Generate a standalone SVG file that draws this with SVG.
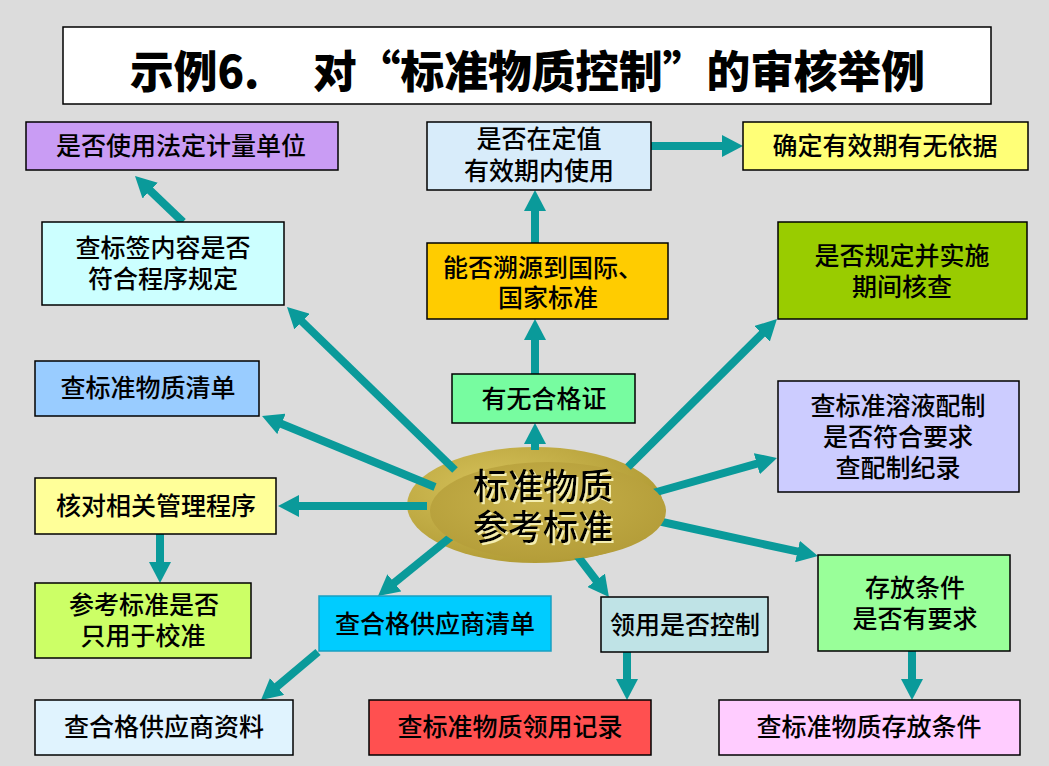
<svg xmlns="http://www.w3.org/2000/svg" width="1049" height="766" viewBox="0 0 1049 766">
<defs>
<style>
.bx{stroke:#000;stroke-width:1.5}
.t{font-family:"Noto Sans CJK SC","Noto Sans",sans-serif;font-size:25px;font-weight:500;fill:#000;text-anchor:middle}
.c{stroke:#0a9a9a;stroke-width:8;fill:none;marker-end:url(#ah)}
</style>
<marker id="ah" markerUnits="userSpaceOnUse" markerWidth="21" markerHeight="22" viewBox="0 0 21 22" refX="3" refY="11" orient="auto">
<path d="M0,0 L21,11 L0,22 z" fill="#0a9a9a"/>
</marker>
<radialGradient id="rim" cx="0.35" cy="0.35" r="0.7">
<stop offset="0" stop-color="#d6c25a"/>
<stop offset="1" stop-color="#b09a34"/>
</radialGradient>
<radialGradient id="face" cx="0.45" cy="0.4" r="0.65">
<stop offset="0" stop-color="#c7b14a"/>
<stop offset="1" stop-color="#b39c38"/>
</radialGradient>
<filter id="sh" x="-10%" y="-20%" width="120%" height="140%">
<feOffset in="SourceAlpha" dx="2" dy="2" result="o"/>
<feFlood flood-color="#f4eeb0"/>
<feComposite in2="o" operator="in" result="s"/>
<feMerge><feMergeNode in="s"/><feMergeNode in="SourceGraphic"/></feMerge>
</filter>
</defs>
<rect width="1049" height="766" fill="#dcdcdc"/>

<g id="title">
<rect x="63" y="27" width="928" height="77" fill="#fff" stroke="#000" stroke-width="1.5"/>
<text x="130" y="88" textLength="795" lengthAdjust="spacingAndGlyphs" style="font-family:'Noto Sans CJK SC','Noto Sans',sans-serif;font-size:44px;font-weight:900;fill:#000">示例6.　 对“标准物质控制”的审核举例</text>
</g>

<g id="center-back">
<ellipse cx="535" cy="505" rx="128" ry="58" fill="url(#rim)"/>
</g>

<g id="connectors">
<line class="c" x1="183" y1="222" x2="148" y2="188.5"/>
<line class="c" x1="455" y1="470" x2="299.9" y2="319.5"/>
<line class="c" x1="435" y1="487" x2="278.7" y2="422.8"/>
<line class="c" x1="427" y1="506" x2="296" y2="506"/>
<line class="c" x1="160" y1="534" x2="160" y2="565"/>
<line class="c" x1="452" y1="536" x2="392" y2="584.7"/>
<line class="c" x1="318" y1="652" x2="274.8" y2="688.4"/>
<line class="c" x1="576" y1="554" x2="598" y2="582.7"/>
<line class="c" x1="627" y1="652" x2="627" y2="682"/>
<line class="c" x1="653" y1="520" x2="800.4" y2="552.2"/>
<line class="c" x1="653" y1="493" x2="759.7" y2="462.9"/>
<line class="c" x1="628" y1="467" x2="764.2" y2="331.7"/>
<line class="c" x1="535" y1="450" x2="535" y2="441"/>
<line class="c" x1="535" y1="374" x2="535" y2="337"/>
<line class="c" x1="535" y1="243" x2="535" y2="208"/>
<line class="c" x1="651" y1="146" x2="725" y2="146"/>
<line class="c" x1="912" y1="651" x2="912" y2="682"/>
</g>

<g id="center">
<ellipse cx="548" cy="511" rx="118" ry="49" fill="url(#face)"/>
<text filter="url(#sh)" style="font-family:'Noto Sans CJK SC','Noto Sans',sans-serif;font-size:35px;font-weight:500;text-anchor:middle;fill:#000"><tspan x="543" y="499">标准物质</tspan><tspan x="543" y="540">参考标准</tspan></text>
</g>

<g id="n-unit"><rect class="bx" x="26" y="122" width="312" height="48" fill="#c99cf4"/><text class="t" x="181" y="155">是否使用法定计量单位</text></g>
<g id="n-validity"><rect class="bx" x="427" y="122" width="224" height="68" fill="#d8ecfa"/><text class="t"><tspan x="539" y="148">是否在定值</tspan><tspan x="539" y="180">有效期内使用</tspan></text></g>
<g id="n-basis"><rect class="bx" x="743" y="122" width="285" height="48" fill="#ffff77"/><text class="t" x="885" y="155">确定有效期有无依据</text></g>
<g id="n-label"><rect class="bx" x="42" y="222" width="242" height="83" fill="#ccffff"/><text class="t"><tspan x="163" y="257">查标签内容是否</tspan><tspan x="163" y="288">符合程序规定</tspan></text></g>
<g id="n-trace"><rect class="bx" x="427" y="243" width="241" height="76" fill="#ffcc00"/><text class="t" style="text-anchor:start"><tspan x="443" y="277">能否溯源到国际、</tspan><tspan x="498" y="307">国家标准</tspan></text></g>
<g id="n-check"><rect class="bx" x="778" y="222" width="249" height="97" fill="#99cc00"/><text class="t"><tspan x="902" y="265">是否规定并实施</tspan><tspan x="902" y="296">期间核查</tspan></text></g>
<g id="n-list"><rect class="bx" x="35" y="361" width="224" height="55" fill="#99ccff"/><text class="t" x="148" y="397">查标准物质清单</text></g>
<g id="n-cert"><rect class="bx" x="452" y="374" width="183" height="49" fill="#77fca0"/><text class="t" x="544" y="408">有无合格证</text></g>
<g id="n-solution"><rect class="bx" x="778" y="381" width="241" height="111" fill="#ccccff"/><text class="t"><tspan x="898" y="415">查标准溶液配制</tspan><tspan x="898" y="446">是否符合要求</tspan><tspan x="898" y="477">查配制纪录</tspan></text></g>
<g id="n-procedure"><rect class="bx" x="35" y="478" width="241" height="56" fill="#ffff99"/><text class="t" x="156" y="515">核对相关管理程序</text></g>
<g id="n-calib"><rect class="bx" x="35" y="583" width="216" height="75" fill="#ccff66"/><text class="t"><tspan x="144" y="614">参考标准是否</tspan><tspan x="143" y="645">只用于校准</tspan></text></g>
<g id="n-supplier-list"><rect x="319" y="596" width="232" height="55" fill="#00ccff" stroke="#1a9fc0" stroke-width="1.5"/><text class="t" x="435" y="633">查合格供应商清单</text></g>
<g id="n-usage"><rect class="bx" x="601" y="597" width="167" height="55" fill="#bfe3e6"/><text class="t" x="685" y="634">领用是否控制</text></g>
<g id="n-storage"><rect class="bx" x="818" y="555" width="192" height="96" fill="#99ff99"/><text class="t"><tspan x="915" y="597">存放条件</tspan><tspan x="915" y="628">是否有要求</tspan></text></g>
<g id="n-supplier-data"><rect class="bx" x="35" y="700" width="258" height="55" fill="#e0f3fe"/><text class="t" x="164" y="736">查合格供应商资料</text></g>
<g id="n-usage-record"><rect class="bx" x="369" y="700" width="282" height="55" fill="#ff5050"/><text class="t" x="510" y="736">查标准物质领用记录</text></g>
<g id="n-storage-check"><rect class="bx" x="719" y="700" width="301" height="55" fill="#ffccff"/><text class="t" x="869" y="736">查标准物质存放条件</text></g>
</svg>
